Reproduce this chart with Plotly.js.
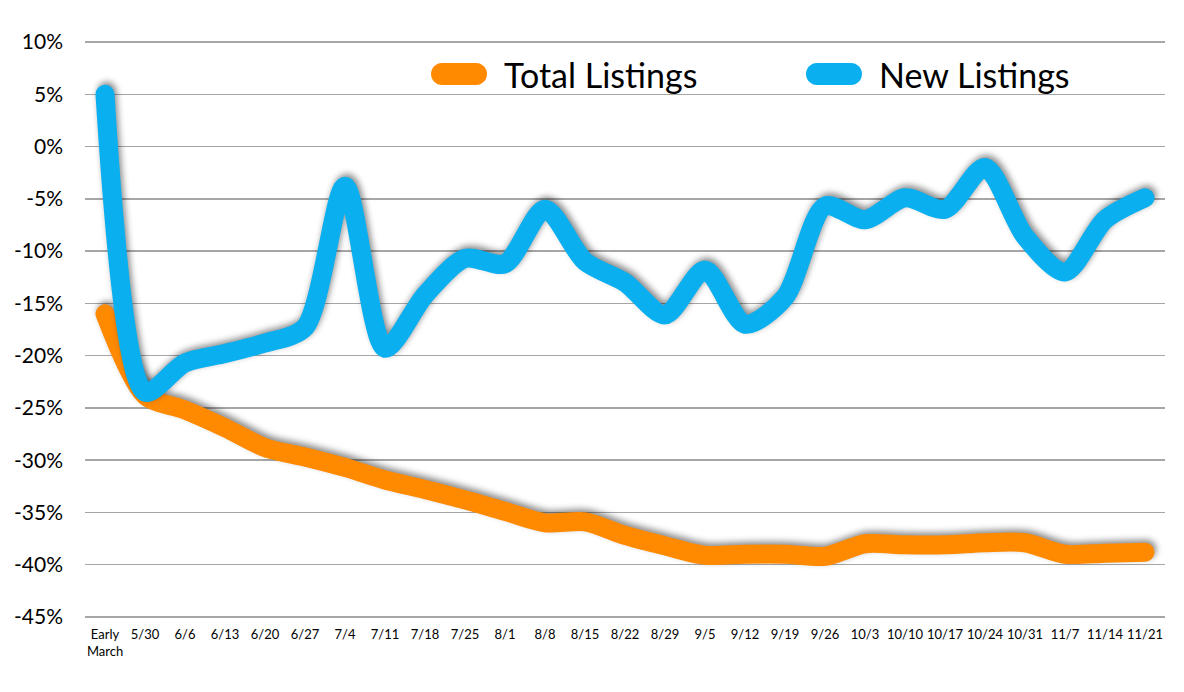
<!DOCTYPE html>
<html>
<head>
<meta charset="utf-8">
<script src="https://cdn.plot.ly/plotly-3.0.1.min.js"></script>
<style>
  html, body { margin: 0; padding: 0; background: #fff; }
  #chart { width: 1184px; height: 692px; }
  .scatterlayer .js-line {
    stroke-linecap: round !important;
    stroke-linejoin: round !important;
    filter: drop-shadow(2px -3px 3px rgba(0,0,0,0.45));
  }
</style>
</head>
<body>
<div id="chart"></div>
<script>
// ---- data ----
const categories = ["Early<br>March", "5/30", "6/6", "6/13", "6/20", "6/27", "7/4", "7/11", "7/18", "7/25",
  "8/1", "8/8", "8/15", "8/22", "8/29", "9/5", "9/12", "9/19", "9/26", "10/3",
  "10/10", "10/17", "10/24", "10/31", "11/7", "11/14", "11/21"];

const totalListings = [-16, -23.8, -25.2, -26.9, -28.8, -29.7, -30.7, -31.9, -32.8, -33.8,
  -34.9, -36, -35.9, -37.2, -38.2, -39.1, -39, -39, -39.2, -38,
  -38.1, -38.1, -37.9, -37.9, -39, -38.9, -38.8];

const newListings = [5, -23.5, -20.7, -19.8, -18.8, -17.3, -3.8, -19.3, -14.2, -10.7,
  -11.2, -6, -11, -13, -16.1, -11.8, -17, -14.4, -5.7, -7,
  -4.9, -6, -2, -8.6, -12, -7, -4.9];

const yTickVals = [10, 5, 0, -5, -10, -15, -20, -25, -30, -35, -40, -45];
const yTickText = ["10%", "5%", "0%", "-5%", "-10%", "-15%", "-20%", "-25%", "-30%", "-35%", "-40%", "-45%"];

const seriesNames = ["Total Listings", "New Listings"];
const seriesColors = ["#FF8A00", "#09AFEF"];

// ---- chart ----
const traces = [
  {
    type: "scatter", mode: "lines", name: seriesNames[0],
    x: categories, y: totalListings,
    line: { color: seriesColors[0], width: 19, shape: "spline", smoothing: 0.8 },
    hoverinfo: "skip"
  },
  {
    type: "scatter", mode: "lines", name: seriesNames[1],
    x: categories, y: newListings,
    line: { color: seriesColors[1], width: 19, shape: "spline", smoothing: 0.8 },
    hoverinfo: "skip"
  }
];

function pill(xa, color) {
  return {
    type: "path", xref: "paper", yref: "paper",
    xsizemode: "pixel", ysizemode: "pixel",
    xanchor: xa, yanchor: 0.9426,
    path: "M -17,-11 L 17,-11 C 23.08,-11 28,-6.08 28,0 C 28,6.08 23.08,11 17,11 L -17,11 C -23.08,11 -28,6.08 -28,0 C -28,-6.08 -23.08,-11 -17,-11 Z",
    fillcolor: color, line: { width: 0 }, layer: "above"
  };
}

const layout = {
  width: 1184, height: 692,
  margin: { l: 85, r: 19, t: 41, b: 74, pad: 0 },
  paper_bgcolor: "#ffffff", plot_bgcolor: "#ffffff",
  showlegend: false,
  font: { family: "Lato, 'Open Sans', sans-serif", color: "#000" },
  xaxis: {
    type: "category",
    range: [-0.5, categories.length - 0.5],
    showgrid: false, zeroline: false, showline: false,
    ticks: "", tickfont: { size: 13, color: "#000" },
    tickangle: 0, ticklabelstandoff: 7, fixedrange: true
  },
  yaxis: {
    range: [-45.1, 10.1],
    tickvals: yTickVals, ticktext: yTickText,
    showgrid: true, gridcolor: "#a6a6a6", gridwidth: 1.5,
    zeroline: false, showline: false,
    ticks: "", tickfont: { size: 21, color: "#000" },
    ticklabelstandoff: 21, fixedrange: true
  },
  shapes: [pill(0.3463, seriesColors[0]), pill(0.6935, seriesColors[1])],
  annotations: [
    { xref: "paper", yref: "paper", x: 0.386, y: 0.9426, xanchor: "left", yanchor: "middle",
      text: seriesNames[0], showarrow: false, font: { size: 34, color: "#000" } },
    { xref: "paper", yref: "paper", x: 0.733, y: 0.9426, xanchor: "left", yanchor: "middle",
      text: seriesNames[1], showarrow: false, font: { size: 34, color: "#000" } }
  ]
};

Plotly.newPlot("chart", traces, layout, { displayModeBar: false, staticPlot: true });
</script>
</body>
</html>
